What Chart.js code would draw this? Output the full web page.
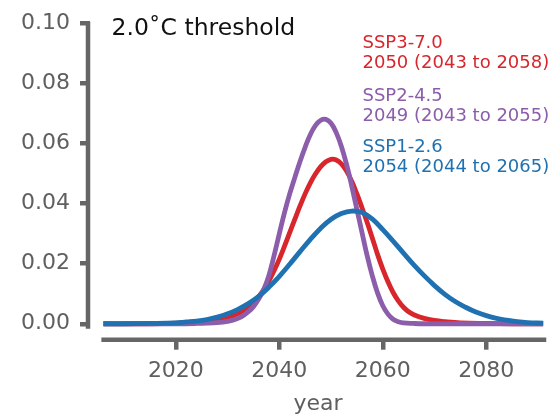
<!DOCTYPE html>
<html>
<head>
<meta charset="utf-8">
<script src="https://cdn.jsdelivr.net/npm/chart.js@4/dist/chart.umd.min.js"></script>
<style>
  html, body { margin: 0; padding: 0; background: #ffffff; }
  #wrap { width: 554px; height: 418px; position: relative; }
</style>
</head>
<body>
<div id="wrap"><canvas id="c" width="554" height="418"></canvas></div>
<script>
// ---- data ----
// SSP3-7.0 (red)
const yearsRed = [2006, 2015, 2020, 2024, 2026, 2028, 2030, 2031, 2032, 2033, 2034, 2035, 2036, 2037, 2038, 2039,
                  2040, 2041, 2042, 2043, 2044, 2045, 2046, 2047, 2048, 2049, 2050, 2051, 2052, 2053, 2054, 2055,
                  2056, 2057, 2058, 2059, 2060, 2061, 2062, 2063, 2064, 2065, 2066, 2068, 2070, 2072, 2075, 2080, 2085, 2091];
const ssp370 = [0, 0, 0.0002, 0.0006, 0.0009, 0.0013, 0.0021, 0.0027, 0.0034, 0.0044, 0.0056, 0.0071, 0.009, 0.0114, 0.0143, 0.0177,
                0.0215, 0.0258, 0.0303, 0.0348, 0.0392, 0.0433, 0.0469, 0.0499, 0.0523, 0.0539, 0.0547, 0.0545, 0.0532, 0.0508, 0.0474, 0.0432,
                0.0385, 0.0336, 0.0284, 0.023, 0.0182, 0.014, 0.0104, 0.0076, 0.0055, 0.004, 0.003, 0.0018, 0.0011, 0.0007, 0.0003, 0.0001, 0, 0];
// SSP2-4.5 (purple)
const yearsPurple = [2006, 2015, 2020, 2024, 2026, 2028, 2030, 2031, 2032, 2033, 2034, 2035, 2036, 2037, 2038, 2039,
                     2040, 2041, 2042, 2043, 2044, 2045, 2046, 2047, 2048, 2049, 2050, 2051, 2052, 2053, 2054, 2055,
                     2056, 2057, 2058, 2059, 2060, 2061, 2062, 2063, 2064, 2066, 2068, 2075, 2085, 2091];
const ssp245 = [0, 0, 0, 0.0001, 0.0002, 0.0004, 0.0008, 0.0012, 0.0018, 0.0027, 0.004, 0.0057, 0.0082, 0.0115, 0.0162, 0.0228,
                0.030, 0.037, 0.0432, 0.0487, 0.054, 0.0588, 0.063, 0.066, 0.0677, 0.068, 0.0667, 0.0636, 0.059, 0.053, 0.0458, 0.038,
                0.0302, 0.0225, 0.0158, 0.0102, 0.006, 0.0032, 0.0015, 0.0007, 0.0003, 0.0001, 0, 0, 0, 0];
// SSP1-2.6 (blue)
const yearsBlue = [2006, 2010, 2015, 2020, 2022, 2024, 2026, 2028, 2030, 2032, 2034, 2036, 2038, 2040, 2042, 2044, 2046, 2048,
                   2050, 2052, 2054, 2056, 2058, 2060, 2062, 2064, 2066, 2068, 2070, 2072, 2074, 2076, 2078, 2080, 2082, 2084,
                   2086, 2088, 2091];
const ssp126 = [0, 0, 0.0001, 0.0003, 0.0006, 0.0009, 0.0014, 0.0022, 0.0033, 0.0048, 0.0067, 0.0091, 0.0122, 0.0158, 0.0198, 0.024, 0.0281, 0.0318,
                0.0348, 0.0367, 0.0375, 0.037, 0.0348, 0.0313, 0.0275, 0.0235, 0.0196, 0.016, 0.0127, 0.0098, 0.0074, 0.0055, 0.0039, 0.0027, 0.0018, 0.0012,
                0.0007, 0.0004, 0.0002];
const xTicks = [2020, 2040, 2060, 2080];
const yTicks = [0, 0.02, 0.04, 0.06, 0.08, 0.10];
const scenarioNames = ['SSP3-7.0', 'SSP2-4.5', 'SSP1-2.6'];
const scenarioRanges = ['2050 (2043 to 2058)', '2049 (2043 to 2055)', '2054 (2044 to 2065)'];
const titleText = '2.0\u02DAC threshold';
const xTitle = 'year';

// ---- styles ----
const RED = '#d8262d', PURPLE = '#8c5dab', BLUE = '#1f71b1', AXIS = '#666666', TXT = '#5f5f5f';
const FONT = '"DejaVu Sans", sans-serif';

const pts = (xs, arr) => xs.map((y, i) => ({ x: y, y: arr[i] }));

const spines = {
  id: 'spines',
  afterDraw(chart) {
    const { ctx } = chart;
    const xs = chart.scales.x, ys = chart.scales.y;
    ctx.save();
    ctx.strokeStyle = AXIS;
    ctx.lineWidth = 4.5;
    ctx.lineCap = 'butt';
    const yx = chart.chartArea.left - 2;
    ctx.beginPath();
    ctx.moveTo(yx, ys.getPixelForValue(0.10) - 1.5);
    ctx.lineTo(yx, ys.getPixelForValue(0) + 5);
    ctx.stroke();
    const xy = chart.chartArea.bottom;
    ctx.beginPath();
    ctx.moveTo(xs.getPixelForValue(2005.6), xy);
    ctx.lineTo(xs.getPixelForValue(2091.6), xy);
    ctx.stroke();
    ctx.restore();
  }
};

const texts = {
  id: 'texts',
  afterDraw(chart) {
    const { ctx } = chart;
    ctx.save();
    ctx.textAlign = 'left';
    ctx.textBaseline = 'alphabetic';
    ctx.fillStyle = '#111111';
    ctx.font = '23.5px ' + FONT;
    ctx.fillText(titleText, 111.5, 35);
    const cols = [RED, PURPLE, BLUE];
    ctx.font = '18px ' + FONT;
    const base = [48.3, 100.7, 151.7];
    for (let i = 0; i < 3; i++) {
      ctx.fillStyle = cols[i];
      ctx.fillText(scenarioNames[i], 362.5, base[i]);
      ctx.fillText(scenarioRanges[i], 362.5, base[i] + 20);
    }
    ctx.restore();
  }
};

new Chart(document.getElementById('c'), {
  type: 'line',
  data: {
    datasets: [
      { label: 'SSP1-2.6', data: pts(yearsBlue, ssp126), borderColor: BLUE, order: 0 },
      { label: 'SSP2-4.5', data: pts(yearsPurple, ssp245), borderColor: PURPLE, order: 1 },
      { label: 'SSP3-7.0', data: pts(yearsRed, ssp370), borderColor: RED, order: 2 }
    ]
  },
  options: {
    responsive: false,
    animation: false,
    devicePixelRatio: 1,
    layout: { padding: { top: 13.3, right: 8, left: 0, bottom: 0 } },
    elements: {
      line: { borderWidth: 4.8, tension: 0.4, cubicInterpolationMode: 'default', borderCapStyle: 'butt', fill: false },
      point: { radius: 0 }
    },
    plugins: { legend: { display: false }, tooltip: { enabled: false }, title: { display: false } },
    scales: {
      x: {
        type: 'linear',
        min: 2003.4, max: 2091.55,
        afterBuildTicks: s => { s.ticks = xTicks.map(v => ({ value: v })); },
        afterFit: s => { s.height = 78.3; },
        border: { display: false },
        grid: { display: true, drawOnChartArea: false, drawTicks: true, tickLength: 10, color: AXIS, lineWidth: 4.5 },
        ticks: { color: TXT, font: { family: FONT, size: 22 }, padding: 8, maxRotation: 0, callback: v => String(v) },
        title: { display: true, text: xTitle, color: TXT, font: { family: FONT, size: 22 }, padding: { top: 0, bottom: 1 } }
      },
      y: {
        type: 'linear',
        min: -0.0053, max: 0.10,
        afterBuildTicks: s => { s.ticks = yTicks.map(v => ({ value: v })); },
        afterFit: s => { s.width = 90; },
        border: { display: false },
        grid: { display: true, drawOnChartArea: false, drawTicks: true, tickLength: 10, color: AXIS, lineWidth: 4.5 },
        ticks: { color: TXT, font: { family: FONT, size: 22 }, padding: 10, callback: v => v.toFixed(2) }
      }
    }
  },
  plugins: [spines, texts]
});
</script>
</body>
</html>
